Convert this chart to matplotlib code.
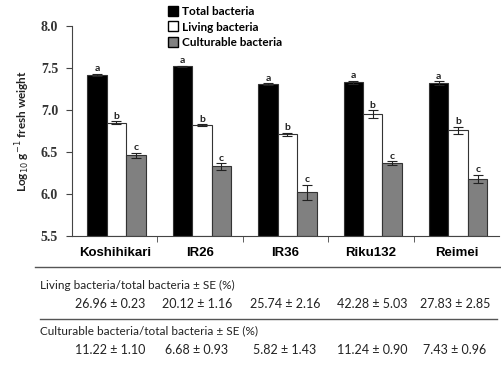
import numpy as np
import matplotlib
matplotlib.use('Agg')
import matplotlib.pyplot as plt
from matplotlib.lines import Line2D

# Cultivars and values (log10 cells g-1 fresh weight)
cultivars = ['Koshihikari', 'IR26', 'IR36', 'Riku132', 'Reimei']
total = [7.42, 7.52, 7.31, 7.33, 7.32]
total_se = [0.01, 0.01, 0.01, 0.02, 0.02]
living = [6.85, 6.82, 6.71, 6.95, 6.76]
living_se = [0.02, 0.01, 0.02, 0.05, 0.04]
cultur = [6.46, 6.33, 6.02, 6.37, 6.18]
cultur_se = [0.03, 0.04, 0.09, 0.02, 0.05]
letters = ['a', 'b', 'c']

living_ratio = ['26.96 \u00b1 0.23', '20.12 \u00b1 1.16', '25.74 \u00b1 2.16',
                '42.28 \u00b1 5.03', '27.83 \u00b1 2.85']
cultur_ratio = ['11.22 \u00b1 1.10', '6.68 \u00b1 0.93', '5.82 \u00b1 1.43',
                '11.24 \u00b1 0.90', '7.43 \u00b1 0.96']

fig = plt.figure(figsize=(5.02, 3.67), dpi=100)
ax = fig.add_axes([0.1434, 0.357, 0.851, 0.572])

x = np.arange(len(cultivars))
w = 0.228
series = [(total, total_se, 'black'), (living, living_se, 'white'), (cultur, cultur_se, '#808080')]
for i, (vals, se, col) in enumerate(series):
    xs = x + (i - 1) * w + 0.02
    ax.bar(xs, np.array(vals) - 5.5, w, bottom=5.5, color=col, edgecolor='#333333', linewidth=0.8)
    ax.errorbar(xs, vals, yerr=se, fmt='none', ecolor='#222222', elinewidth=0.8, capsize=3.5, capthick=0.8)
    for xi, v, s in zip(xs, vals, se):
        ax.text(xi, v + s + 0.005, letters[i], ha='center', va='bottom',
                fontsize=7.5, family='Lato', fontweight='bold', color='#222222')

ax.set_xlim(-0.5, 4.5)
ax.set_ylim(5.5, 8.0)
ax.set_yticks([5.5, 6.0, 6.5, 7.0, 7.5, 8.0])
ax.set_yticklabels(['5.5', '6.0', '6.5', '7.0', '7.5', '8.0'], family='Liberation Serif',
                   fontweight='bold', fontsize=10, color='#333333')
ax.set_xticks(x)
ax.set_xticklabels(cultivars, family='Liberation Sans', fontweight='bold', fontsize=9.5)
ax.set_xticks(np.arange(0.5, 4.5, 1), minor=True)
ax.tick_params(axis='x', which='major', length=0, pad=8)
ax.tick_params(axis='x', which='minor', length=4, direction='out', color='#444444')
ax.tick_params(axis='y', length=4, direction='out', color='#444444', pad=6)
for s in ['top', 'right']:
    ax.spines[s].set_visible(False)
ax.spines['left'].set_color('#444444')
ax.spines['bottom'].set_color('#444444')

ax.set_ylabel('Log$_{10}$ g$^{-1}$ fresh weight', family='Lato', fontweight='bold',
              fontsize=8.5, labelpad=6, color='#222222')

handles = [Line2D([], [], marker='s', ls='none', mfc=c, mec='black', ms=6.5, mew=1.0)
           for c in ['black', 'white', '#808080']]
fig.legend(handles, ['Total bacteria', 'Living bacteria', 'Culturable bacteria'],
           loc='upper left', bbox_to_anchor=(0.315, 1.005), frameon=False,
           prop={'family': 'Lato', 'size': 8.5, 'weight': 'bold'}, handletextpad=0.1,
           labelspacing=0.35, handlelength=1.2, borderpad=0.2)

# table below the chart
H = 367.0
fig.add_artist(Line2D([35 / 502, 500 / 502], [1 - 267 / H, 1 - 267 / H], color='#555555', lw=1))
fig.add_artist(Line2D([40 / 502, 497 / 502], [1 - 319 / H, 1 - 319 / H], color='#555555', lw=1))
fig.text(40 / 502, 1 - 285 / H, 'Living bacteria/total bacteria \u00b1 SE (%)',
         family='Lato', fontsize=8.5, va='center', color='#222222')
fig.text(40 / 502, 1 - 331 / H, 'Culturable bacteria/total bacteria \u00b1 SE (%)',
         family='Lato', fontsize=8.5, va='center', color='#222222')
centers = [110, 197, 285, 372, 455]
for cx, a, b in zip(centers, living_ratio, cultur_ratio):
    fig.text(cx / 502, 1 - 304 / H, a, family='Lato', fontsize=9, ha='center', va='center', color='#222222')
    fig.text(cx / 502, 1 - 350 / H, b, family='Lato', fontsize=9, ha='center', va='center', color='#222222')

fig.savefig('out.png', dpi=100)
